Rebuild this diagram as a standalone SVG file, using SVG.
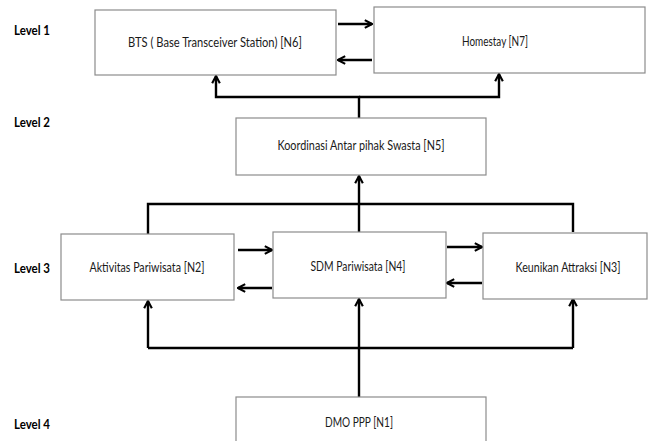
<svg xmlns="http://www.w3.org/2000/svg" width="649" height="441" viewBox="0 0 649 441">
  <style>
    .box { fill: #ffffff; stroke: #8c8c8c; stroke-width: 1.2; }
    .lbl { font-family: "Liberation Sans Narrow", "Lato", "Liberation Sans", sans-serif; font-size: 13px; fill: #1a1a1a; text-anchor: middle; }
    .lvl { font-family: "Liberation Sans Narrow", "Lato", "Liberation Sans", sans-serif; font-size: 13px; font-weight: bold; fill: #000000; }
    .wire { fill: none; stroke: #000000; stroke-width: 2.4; }
  </style>
  <defs>
    <marker id="arr" viewBox="0 0 10 10" refX="8.5" refY="5" markerWidth="4" markerHeight="4" orient="auto" markerUnits="strokeWidth">
      <path d="M1,1 L8.5,5 L1,9" fill="none" stroke="#000000" stroke-width="2.2"/>
    </marker>
  </defs>
  <rect width="649" height="441" fill="#ffffff"/>

  <!-- level labels -->
  <g id="levels">
    <text class="lvl" x="14" y="35" textLength="36" lengthAdjust="spacingAndGlyphs">Level 1</text>
    <text class="lvl" x="14" y="127" textLength="36" lengthAdjust="spacingAndGlyphs">Level 2</text>
    <text class="lvl" x="14" y="273" textLength="36" lengthAdjust="spacingAndGlyphs">Level 3</text>
    <text class="lvl" x="14" y="429" textLength="36" lengthAdjust="spacingAndGlyphs">Level 4</text>
  </g>

  <!-- connectors -->
  <g id="connectors">
    <!-- N6 <-> N7 -->
    <path class="wire" d="M338,24 H372" marker-end="url(#arr)"/>
    <path class="wire" d="M372,60 H338" marker-end="url(#arr)"/>
    <!-- N5 to N6 / N7 -->
    <path class="wire" d="M359,118 V97 H216 V76" marker-end="url(#arr)"/>
    <path class="wire" d="M359,97 H499 V74" marker-end="url(#arr)"/>
    <!-- level 3 to N5 -->
    <path class="wire" d="M148,234 V204 H573 V232"/>
    <path class="wire" d="M359,232 V176" marker-end="url(#arr)"/>
    <!-- N2 <-> N4 -->
    <path class="wire" d="M238,250 H272" marker-end="url(#arr)"/>
    <path class="wire" d="M272,288 H238" marker-end="url(#arr)"/>
    <!-- N4 <-> N3 -->
    <path class="wire" d="M447,247 H482" marker-end="url(#arr)"/>
    <path class="wire" d="M482,283 H447" marker-end="url(#arr)"/>
    <!-- N1 to level 3 -->
    <path class="wire" d="M359,397 V348"/>
    <path class="wire" d="M148,348 H573"/>
    <path class="wire" d="M148,348 V301" marker-end="url(#arr)"/>
    <path class="wire" d="M359,348 V299" marker-end="url(#arr)"/>
    <path class="wire" d="M573,348 V299" marker-end="url(#arr)"/>
  </g>

  <g id="N6">
    <rect class="box" x="95" y="10" width="241" height="65"/>
    <text class="lbl" x="215" y="47" textLength="174" lengthAdjust="spacingAndGlyphs">BTS ( Base Transceiver Station)  [N6]</text>
  </g>
  <g id="N7">
    <rect class="box" x="374" y="7" width="271" height="66"/>
    <text class="lbl" x="495" y="46" textLength="66" lengthAdjust="spacingAndGlyphs">Homestay [N7]</text>
  </g>
  <g id="N5">
    <rect class="box" x="236" y="118" width="250" height="57"/>
    <text class="lbl" x="361" y="150" textLength="167" lengthAdjust="spacingAndGlyphs">Koordinasi Antar pihak Swasta [N5]</text>
  </g>
  <g id="N2">
    <rect class="box" x="61" y="234" width="173" height="66"/>
    <text class="lbl" x="147" y="272" textLength="115" lengthAdjust="spacingAndGlyphs">Aktivitas Pariwisata [N2]</text>
  </g>
  <g id="N4">
    <rect class="box" x="273" y="232" width="173" height="66"/>
    <text class="lbl" x="358" y="271" textLength="95" lengthAdjust="spacingAndGlyphs">SDM Pariwisata [N4]</text>
  </g>
  <g id="N3">
    <rect class="box" x="483" y="233" width="164" height="66"/>
    <text class="lbl" x="568" y="272" textLength="105" lengthAdjust="spacingAndGlyphs">Keunikan Attraksi [N3]</text>
  </g>
  <g id="N1">
    <rect class="box" x="236" y="397" width="250" height="50"/>
    <text class="lbl" x="359" y="427" textLength="68" lengthAdjust="spacingAndGlyphs">DMO PPP [N1]</text>
  </g>
</svg>
